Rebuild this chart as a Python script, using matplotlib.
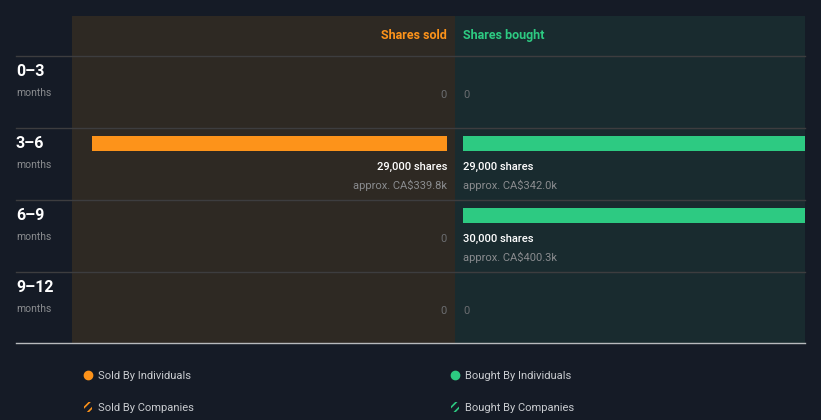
import matplotlib.pyplot as plt
import numpy as np
from matplotlib.lines import Line2D
from matplotlib.patches import Rectangle
from matplotlib.transforms import blended_transform_factory

plt.rcParams['font.family'] = ['Roboto', 'DejaVu Sans']

# data
periods = ['0–3', '3–6', '6–9', '9–12']
sold_shares = [0, 29000, 0, 0]
sold_value = ['', 'CA$339.8k', '', '']
bought_shares = [0, 29000, 30000, 0]
bought_value = ['', 'CA$342.0k', 'CA$400.3k', '']
legend_labels = ['Sold By Individuals', 'Sold By Companies',
                 'Bought By Individuals', 'Bought By Companies']

BG = '#151b26'
ORANGE = '#fd931a'
GREEN = '#2dca82'
SOLD_BG = '#2e2923'
BOUGHT_BG = '#192b2f'
GRAY = '#8a8c8f'

W, H = 821, 420
fig = plt.figure(figsize=(W / 100, H / 100), dpi=100, facecolor=BG)


def frame(x0, y0, x1, y1):
    return [x0 / W, 1 - y1 / H, (x1 - x0) / W, (y1 - y0) / H]


ax_s = fig.add_axes(frame(72, 16, 455, 343))
ax_b = fig.add_axes(frame(455, 16, 805, 343))

k = 355 / 29000  # pixels per share
ax_s.set_xlim(375 / k, -8 / k)
ax_b.set_xlim(-8 / k, 342 / k)

rows = np.arange(len(periods))
for ax, bg in ((ax_s, SOLD_BG), (ax_b, BOUGHT_BG)):
    ax.set_ylim(287 / 72, -40 / 72)
    ax.axis('off')
    ax.add_patch(Rectangle((0, 0), 1, 1, transform=ax.transAxes,
                           color=bg, zorder=0))

ax_s.barh(rows + 0.215, sold_shares, height=0.21, color=ORANGE, zorder=2)
ax_b.barh(rows + 0.215, bought_shares, height=0.21, color=GREEN, zorder=2)

for ax, shares, values, ha in ((ax_s, sold_shares, sold_value, 'right'),
                               (ax_b, bought_shares, bought_value, 'left')):
    for i, (n, v) in enumerate(zip(shares, values)):
        if n > 0:
            ax.text(0, i + 0.545, f'{n:,} shares', ha=ha, va='center',
                    color='white', fontsize=8, fontweight='medium', zorder=3)
            ax.text(0, i + 0.795, f'approx. {v}', ha=ha, va='center',
                    color=GRAY, fontsize=8, zorder=3)
        else:
            ax.text(0, i + 0.545, '0', ha=ha, va='center',
                    color='#6b6d70', fontsize=8, zorder=3)

ax_s.text(0, -0.29, 'Shares sold', ha='right', va='center', color=ORANGE,
          fontsize=9, fontweight='bold')
ax_b.text(0, -0.29, 'Shares bought', ha='left', va='center', color=GREEN,
          fontsize=9, fontweight='bold')

# row labels and separators
tr = blended_transform_factory(fig.transFigure, ax_s.transData)
for i, p in enumerate(periods):
    fig.text(16 / W, i + 0.21, p, transform=tr, ha='left', va='center',
             color='white', fontsize=11.5, fontweight='bold')
    fig.text(16 / W, i + 0.515, 'months', transform=tr, ha='left', va='center',
             color=GRAY, fontsize=7.5)
    fig.add_artist(Line2D([16 / W, 805 / W], [i, i], transform=tr,
                          color='#3d3d3f', lw=1, zorder=5))
fig.add_artist(Line2D([16 / W, 805 / W], [287 / 72, 287 / 72], transform=tr,
                      color='#b8babd', lw=1, zorder=5))

# legend
lg = fig.add_axes([0, 0, 1, 1])
lg.set_xlim(0, W)
lg.set_ylim(H, 0)
lg.axis('off')
plt.rcParams['hatch.linewidth'] = 1.2
for col, (x, c) in enumerate(((88, ORANGE), (455, GREEN))):
    lg.plot([x], [375], 'o', color=c, markersize=6)
    lg.add_patch(Rectangle((x - 4, 402), 8, 10, facecolor='none',
                           edgecolor=c, hatch='////', lw=0))
    lg.text(x + 10, 376, legend_labels[2 * col], va='center', ha='left',
            color='#c9ccd0', fontsize=8)
    lg.text(x + 10, 408, legend_labels[2 * col + 1], va='center', ha='left',
            color='#c9ccd0', fontsize=8)

fig.savefig('out.png', dpi=100, facecolor=BG)
